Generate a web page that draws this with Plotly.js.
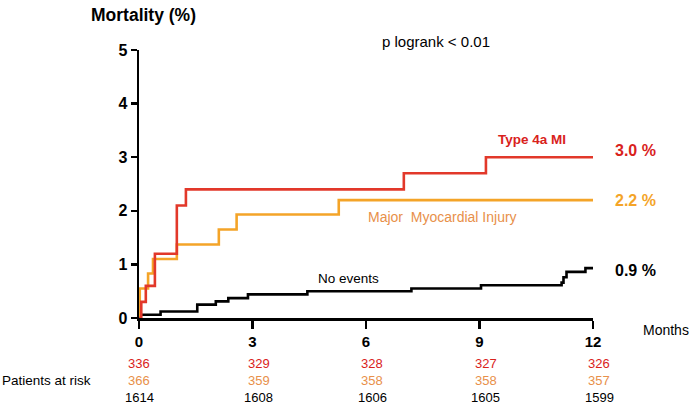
<!DOCTYPE html>
<html>
<head>
<meta charset="utf-8">
<script src="https://cdn.plot.ly/plotly-3.0.1.min.js"></script>
<style>html,body{margin:0;padding:0;background:#fff}#chart{width:700px;height:414px}</style>
</head>
<body>
<div id="chart"></div>
<script>
// Type 4a MI
var redT = [0, 0.06, 0.18, 0.42, 1.0, 1.24, 7.0, 9.17, 12];
var redV = [0, 0.3, 0.6, 1.2, 2.1, 2.4, 2.7, 3.0, 3.0];
// Major Myocardial Injury
var orangeT = [0, 0.02, 0.24, 0.37, 1.0, 2.11, 2.58, 5.28, 12];
var orangeV = [0, 0.55, 0.83, 1.1, 1.37, 1.65, 1.93, 2.2, 2.2];
// No events
var blackT = [0, 0.02, 0.57, 1.54, 2.03, 2.36, 2.88, 4.45, 7.2, 9.04, 11.17, 11.22, 11.3, 11.8, 12];
var blackV = [0, 0.06, 0.12, 0.25, 0.31, 0.37, 0.44, 0.5, 0.55, 0.61, 0.66, 0.76, 0.86, 0.93, 0.93];

var xTicks = [0, 3, 6, 9, 12];
var yTicks = [0, 1, 2, 3, 4, 5];
var riskRed = [336, 329, 328, 327, 326];
var riskOrange = [366, 359, 358, 358, 357];
var riskBlack = [1614, 1608, 1606, 1605, 1599];
var endLabels = ["3.0 %", "2.2 %", "0.9 %"];

var cRed = "#E2382A", cOrange = "#F4A428", cBlack = "#000000";
var cRedText = "#D9221C", cOrangeText = "#E8904A";
var F = "Liberation Sans, Arial, Helvetica, sans-serif";

var traces = [
  {x: blackT, y: blackV, mode: "lines", line: {shape: "hv", color: cBlack, width: 2.6}, hoverinfo: "skip"},
  {x: orangeT, y: orangeV, mode: "lines", line: {shape: "hv", color: cOrange, width: 2.6}, hoverinfo: "skip"},
  {x: redT, y: redV, mode: "lines", line: {shape: "hv", color: cRed, width: 2.6}, hoverinfo: "skip"}
];

var ann = [];
function A(o){ ann.push(Object.assign({showarrow: false, font: {family: F, size: 13, color: "#000"}}, o)); }

A({xref: "paper", yref: "paper", x: -0.11, y: 1.13, xanchor: "left", yanchor: "middle",
   text: "<b>Mortality (%)</b>", font: {family: F, size: 17.5, color: "#000"}});
A({xref: "paper", yref: "paper", x: 0.654, y: 1.03, xanchor: "center", yanchor: "middle",
   text: "p logrank &lt; 0.01", font: {family: F, size: 15, color: "#000"}});
A({xref: "paper", yref: "y", x: 1.105, y: 0, yshift: -12, xanchor: "left", yanchor: "middle",
   text: "Months", font: {family: F, size: 14, color: "#000"}});

A({xref: "x", yref: "y", x: 10.4, y: 3.0, yshift: 18, xanchor: "center", yanchor: "middle",
   text: "<b>Type 4a MI</b>", font: {family: F, size: 13.5, color: cRedText}});
A({xref: "x", yref: "y", x: 8.03, y: 2.2, yshift: -17, xanchor: "center", yanchor: "middle",
   text: "Major  Myocardial Injury", font: {family: F, size: 14, color: cOrangeText}});
A({xref: "x", yref: "y", x: 5.55, y: 0.5, yshift: 13, xanchor: "center", yanchor: "middle",
   text: "No events", font: {family: F, size: 13.5, color: "#000"}});

A({xref: "x", yref: "y", x: 12, xshift: 20, y: 3.0, yshift: 7, xanchor: "left", yanchor: "middle",
   text: "<b>" + endLabels[0] + "</b>", font: {family: F, size: 16, color: cRedText}});
A({xref: "x", yref: "y", x: 12, xshift: 20, y: 2.2, yshift: 0, xanchor: "left", yanchor: "middle",
   text: "<b>" + endLabels[1] + "</b>", font: {family: F, size: 16, color: cOrange}});
A({xref: "x", yref: "y", x: 12, xshift: 20, y: 0.93, yshift: -2, xanchor: "left", yanchor: "middle",
   text: "<b>" + endLabels[2] + "</b>", font: {family: F, size: 16, color: "#000"}});

A({xref: "paper", yref: "paper", x: -0.307, xanchor: "left", y: 0, yshift: -62, yanchor: "middle",
   text: "Patients at risk", font: {family: F, size: 13.5, color: "#000"}});
for (var i = 0; i < xTicks.length; i++) {
  var xs = i === 0 ? 0 : 6;
  A({xref: "x", yref: "paper", x: xTicks[i], xshift: xs, y: 0, yshift: -45, xanchor: "center", yanchor: "middle",
     text: String(riskRed[i]), font: {family: F, size: 13, color: cRedText}});
  A({xref: "x", yref: "paper", x: xTicks[i], xshift: xs, y: 0, yshift: -62, xanchor: "center", yanchor: "middle",
     text: String(riskOrange[i]), font: {family: F, size: 13, color: cOrangeText}});
  A({xref: "x", yref: "paper", x: xTicks[i], xshift: xs, y: 0, yshift: -79, xanchor: "center", yanchor: "middle",
     text: String(riskBlack[i]), font: {family: F, size: 13, color: "#000"}});
}

var layout = {
  width: 700, height: 414,
  margin: {l: 139, r: 107, t: 50, b: 96, pad: 0},
  paper_bgcolor: "#fff", plot_bgcolor: "#fff",
  showlegend: false,
  font: {family: F, color: "#000"},
  xaxis: {
    range: [0, 12], tickvals: xTicks, ticktext: xTicks.map(String),
    showgrid: false, zeroline: false, showline: true, linecolor: "#000", linewidth: 2.5,
    ticks: "outside", ticklen: 8, tickwidth: 2.5, tickcolor: "#000",
    tickfont: {family: F, size: 15, color: "#000", weight: "bold"}, fixedrange: true
  },
  yaxis: {
    range: [0, 5], tickvals: yTicks, ticktext: yTicks.map(String),
    showgrid: false, zeroline: false, showline: true, linecolor: "#000", linewidth: 2.5,
    ticks: "outside", ticklen: 6, tickwidth: 2.5, tickcolor: "#000", ticklabelstandoff: 0,
    tickfont: {family: F, size: 16, color: "#000", weight: "bold"}, fixedrange: true
  },
  annotations: ann
};

Plotly.newPlot("chart", traces, layout, {staticPlot: true, displayModeBar: false});
</script>
</body>
</html>
